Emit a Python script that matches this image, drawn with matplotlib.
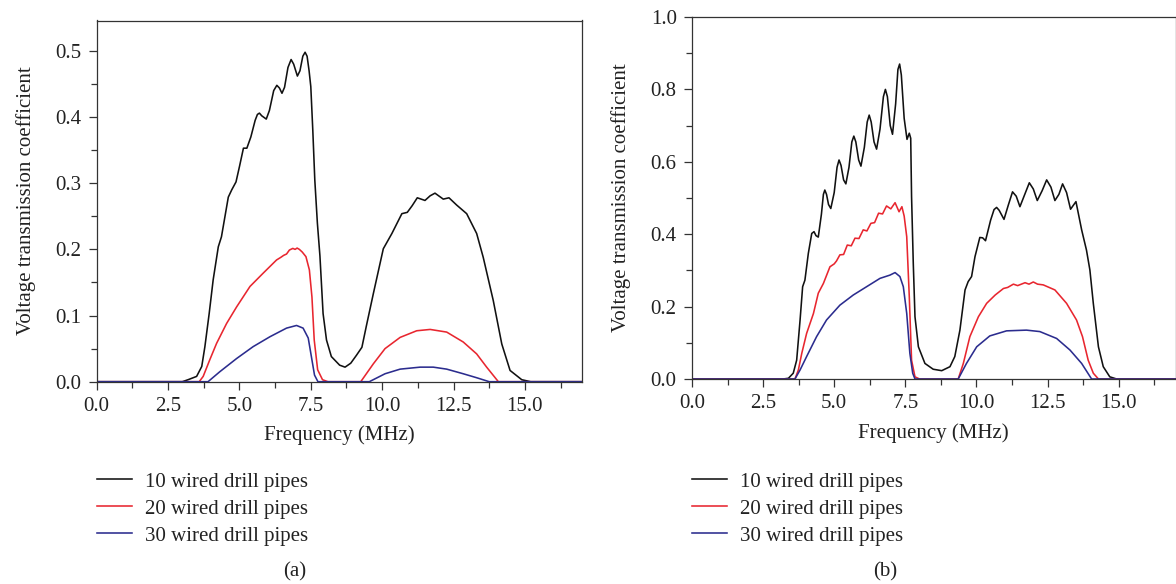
import matplotlib
matplotlib.use("Agg")
import matplotlib.pyplot as plt
from matplotlib.ticker import MultipleLocator, FormatStrFormatter

plt.rcParams['font.family'] = ['Liberation Serif', 'DejaVu Serif']
plt.rcParams['font.size'] = 15

# ---- panel (a): values (MHz, coefficient)
fa_10 = [0, 3.0, 3.2, 3.5, 3.68, 3.79, 3.94, 4.08, 4.26, 4.37, 4.49, 4.61, 4.73, 4.88,
         5.0, 5.14, 5.26, 5.4, 5.55, 5.63, 5.70, 5.78, 5.94, 6.05, 6.2, 6.31, 6.40, 6.49,
         6.58, 6.7, 6.81, 6.9, 7.03, 7.12, 7.22, 7.30, 7.37, 7.44, 7.50, 7.57, 7.64, 7.73,
         7.82, 7.93, 8.05, 8.22, 8.51, 8.70, 8.9, 9.1, 9.29, 9.45, 9.69, 10.04, 10.34,
         10.69, 10.88, 11.05, 11.23, 11.50, 11.68, 11.85, 12.14, 12.34, 12.61, 12.96, 13.31,
         13.54, 13.89, 14.19, 14.48, 14.89, 15.2, 17]
va_10 = [0, 0, 0.003, 0.008, 0.023, 0.053, 0.103, 0.154, 0.204, 0.219, 0.249, 0.279, 0.290, 0.302,
         0.325, 0.353, 0.353, 0.370, 0.395, 0.404, 0.406, 0.402, 0.397, 0.410, 0.440, 0.448, 0.444, 0.436,
         0.445, 0.475, 0.487, 0.480, 0.462, 0.470, 0.492, 0.498, 0.492, 0.470, 0.446, 0.38, 0.305, 0.240,
         0.190, 0.103, 0.063, 0.038, 0.025, 0.022, 0.028, 0.040, 0.052, 0.085, 0.133, 0.201, 0.224,
         0.254, 0.256, 0.266, 0.278, 0.274, 0.281, 0.285, 0.276, 0.278, 0.267, 0.254, 0.224,
         0.188, 0.123, 0.057, 0.017, 0.003, 0, 0]

fa_20 = [0, 3.59, 3.73, 3.96, 4.20, 4.55, 4.90, 5.37, 5.83, 6.30, 6.45, 6.55, 6.65, 6.75,
         6.87, 6.95, 7.02, 7.10, 7.20, 7.33, 7.45, 7.54, 7.62, 7.74, 7.91, 8.1, 9.25, 9.69,
         10.1, 10.63, 11.21, 11.68, 12.26, 12.84, 13.31, 13.66, 14.07, 17]
va_20 = [0, 0, 0.008, 0.033, 0.058, 0.088, 0.113, 0.144, 0.164, 0.184, 0.188, 0.191, 0.193, 0.199,
         0.2015, 0.200, 0.202, 0.200, 0.196, 0.189, 0.169, 0.128, 0.063, 0.018, 0.003, 0, 0, 0.027,
         0.050, 0.067, 0.077, 0.079, 0.075, 0.060, 0.042, 0.022, 0, 0]

fa_30 = [0, 3.90, 4.31, 4.90, 5.48, 6.07, 6.65, 7.00, 7.23, 7.41, 7.52, 7.63, 7.75, 9.55,
         10.1, 10.63, 11.33, 11.79, 12.26, 12.84, 13.31, 13.75, 17]
va_30 = [0, 0, 0.015, 0.035, 0.053, 0.068, 0.081, 0.085, 0.081, 0.066, 0.038, 0.010, 0, 0,
         0.012, 0.019, 0.022, 0.022, 0.019, 0.012, 0.006, 0, 0]

# ---- panel (b)
fb_10 = [0, 3.2, 3.39, 3.56, 3.68, 3.80, 3.89, 3.97, 4.09, 4.21, 4.29, 4.36, 4.44, 4.55,
         4.62, 4.67, 4.73, 4.80, 4.88, 5.0, 5.10, 5.17, 5.24, 5.33, 5.41, 5.52, 5.62, 5.69,
         5.76, 5.86, 5.94, 6.06, 6.16, 6.23, 6.30, 6.40, 6.49, 6.61, 6.73, 6.80, 6.87, 6.97,
         7.05, 7.16, 7.24, 7.30, 7.36, 7.46, 7.56, 7.64, 7.69, 7.72, 7.78, 7.84, 7.96, 8.19,
         8.48, 8.78, 9.07, 9.24, 9.42, 9.60, 9.71, 9.83, 9.95, 10.12, 10.22, 10.32, 10.50,
         10.62, 10.71, 10.80, 10.97, 11.12, 11.27, 11.40, 11.53, 11.70, 11.86, 12.00, 12.14,
         12.31, 12.47, 12.62, 12.76, 12.90, 13.03, 13.17, 13.31, 13.50, 13.70, 13.87, 13.99,
         14.11, 14.29, 14.46, 14.69, 14.93, 17]
vb_10 = [0, 0, 0.002, 0.016, 0.052, 0.163, 0.255, 0.273, 0.347, 0.402, 0.407, 0.396, 0.392, 0.455,
         0.51, 0.522, 0.51, 0.482, 0.471, 0.515, 0.585, 0.605, 0.59, 0.55, 0.539, 0.585, 0.655, 0.671,
         0.655, 0.605, 0.588, 0.64, 0.71, 0.729, 0.71, 0.655, 0.635, 0.69, 0.78, 0.800, 0.78, 0.70,
         0.676, 0.76, 0.855, 0.870, 0.84, 0.72, 0.662, 0.679, 0.665, 0.504, 0.320, 0.172, 0.089, 0.043,
         0.027, 0.023, 0.034, 0.062, 0.135, 0.246, 0.269, 0.283, 0.338, 0.391, 0.390, 0.382, 0.439,
         0.468, 0.474, 0.466, 0.441, 0.48, 0.517, 0.505, 0.476, 0.51, 0.542, 0.525, 0.493,
         0.52, 0.550, 0.53, 0.493, 0.51, 0.539, 0.515, 0.469, 0.490, 0.412, 0.356, 0.301,
         0.209, 0.089, 0.034, 0.006, 0, 0]

fb_20 = [0, 3.62, 3.74, 3.86, 4.03, 4.27, 4.44, 4.62, 4.85, 5.0, 5.08, 5.20, 5.33, 5.46,
         5.60, 5.73, 5.87, 6.02, 6.15, 6.29, 6.42, 6.56, 6.70, 6.84, 6.99, 7.14, 7.28, 7.38,
         7.46, 7.55, 7.64, 7.72, 7.84, 8.0, 9.36, 9.54, 9.77, 10.07, 10.36, 10.66, 10.95,
         11.10, 11.30, 11.45, 11.71, 11.85, 12.00, 12.15, 12.35, 12.76, 13.17, 13.52, 13.73,
         13.93, 14.11, 14.29, 17]
vb_20 = [0, 0, 0.025, 0.071, 0.126, 0.181, 0.237, 0.264, 0.310, 0.318, 0.326, 0.343, 0.344, 0.370,
         0.368, 0.389, 0.388, 0.412, 0.409, 0.430, 0.432, 0.458, 0.456, 0.478, 0.470, 0.487, 0.462, 0.476,
         0.450, 0.393, 0.227, 0.052, 0.006, 0, 0, 0.043, 0.117, 0.172, 0.209, 0.232, 0.250,
         0.253, 0.262, 0.258, 0.266, 0.262, 0.268, 0.262, 0.260, 0.246, 0.209, 0.163, 0.117,
         0.052, 0.016, 0, 0]

fb_30 = [0, 3.62, 3.80, 4.03, 4.38, 4.73, 5.20, 5.67, 6.14, 6.61, 6.96, 7.14, 7.31, 7.43,
         7.55, 7.66, 7.76, 7.84, 9.36, 9.65, 10.01, 10.47, 11.06, 11.76, 12.23, 12.82, 13.29,
         13.70, 14.05, 17]
vb_30 = [0, 0, 0.025, 0.062, 0.117, 0.163, 0.204, 0.232, 0.255, 0.278, 0.287, 0.294, 0.283, 0.255,
         0.181, 0.071, 0.016, 0, 0, 0.043, 0.089, 0.119, 0.133, 0.135, 0.131, 0.112, 0.080,
         0.043, 0, 0]

labels = ['10 wired drill pipes', '20 wired drill pipes', '30 wired drill pipes']
colors = ['#111111', '#e8262f', '#2b2c8e']

W, H = 1176, 584
fig = plt.figure(figsize=(W / 100, H / 100), dpi=100)

ax1 = fig.add_axes([96.7 / W, 1 - 381.7 / H, (582 - 96.7) / W, (381.7 - 20.5) / H])
ax2 = fig.add_axes([692 / W, 1 - 379 / H, (1175.5 - 692) / W, (379 - 17) / H])

panels = [
    (ax1, [(fa_10, va_10), (fa_20, va_20), (fa_30, va_30)], 0.546, 0.1, 0.05),
    (ax2, [(fb_10, vb_10), (fb_20, vb_20), (fb_30, vb_30)], 1.0, 0.2, 0.1),
]

for ax, series, ytop, ymaj, ymin in panels:
    lines = []
    for (f, v), c, lab in zip(series, colors, labels):
        ln, = ax.plot(f, v, color=c, lw=1.15, label=lab, solid_joinstyle='round')
        lines.append(ln)
    ax.set_xlim(0, 17)
    ax.set_ylim(0, ytop)
    ax.xaxis.set_major_locator(MultipleLocator(2.5))
    ax.xaxis.set_minor_locator(MultipleLocator(1.25))
    ax.yaxis.set_major_locator(MultipleLocator(ymaj))
    ax.yaxis.set_minor_locator(MultipleLocator(ymin))
    ax.xaxis.set_major_formatter(FormatStrFormatter('%.1f'))
    ax.yaxis.set_major_formatter(FormatStrFormatter('%.1f'))
    ax.tick_params(which='both', direction='out', color='#333333', width=0.9,
                   top=False, right=False, labelcolor='#222222')
    ax.tick_params(which='major', length=6, pad=5)
    ax.tick_params(which='minor', length=4)
    for s in ax.spines.values():
        s.set_color('#333333')
        s.set_linewidth(0.9)
    ax.set_xlabel('Frequency (MHz)', color='#222222', labelpad=7)
    ax.set_ylabel('Voltage transmission coefficient', color='#222222', labelpad=14)

    x0 = ax.get_position().x0
    fig.legend(lines, labels, loc='upper left', bbox_to_anchor=(x0, 1 - 472 / H),
               frameon=False, borderpad=0, borderaxespad=0, handlelength=1.7,
               handletextpad=0.6, labelspacing=0.36, fontsize=15,
               labelcolor='#222222')

fig.text(295 / W, 1 - 572 / H, '(a)', ha='center', va='center', color='#222222')
fig.text(885 / W, 1 - 572 / H, '(b)', ha='center', va='center', color='#222222')

fig.savefig('out.png', dpi=100)
